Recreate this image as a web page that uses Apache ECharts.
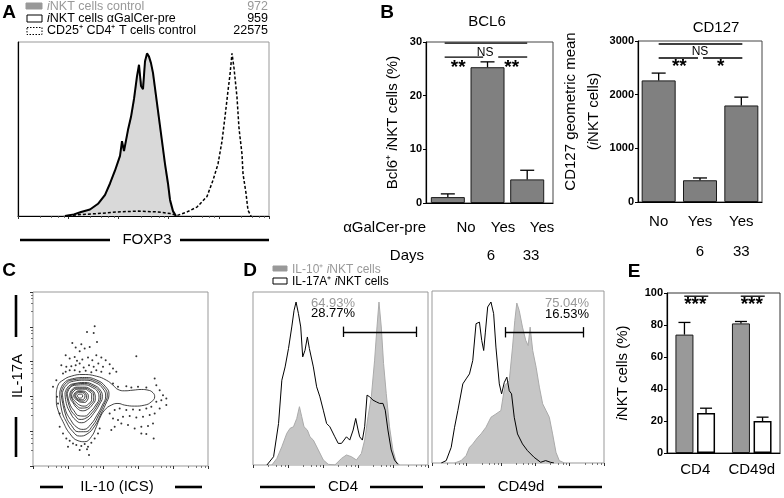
<!DOCTYPE html>
<html><head><meta charset="utf-8">
<script src="https://cdn.jsdelivr.net/npm/echarts@6/dist/echarts.min.js"></script>
<style>html,body{margin:0;padding:0;background:#fff}#c{width:784px;height:498px}</style>
</head><body><div id="c"></div>
<script>
// ================= DATA =================
// Panel A: FOXP3 histograms (x: fluorescence channel, y: % of max)
const foxp3Control = [[45,0],[55,1],[62,2],[72,4],[80,7],[87,12],[92,20],[97,27],[102,36],[104,44],[106,40],[110,52],[113,60],[116,70],[119,84],[121,91],[123,83],[125,80],[127,96],[129,99],[131,97],[133,93],[135,86],[138,72],[141,58],[144,45],[147,30],[150,18],[152,8],[155,2],[158,0]];
const foxp3Pre = [[47,0],[56,1],[63,2.5],[72,4],[80,7.5],[87,13],[92,20],[97,28],[102,37],[104,46],[106,40],[110,53],[113,61],[116,72],[119,86],[121,93],[123,80],[125,78],[127,95],[129,100],[131,98],[133,94],[135,88],[138,74],[141,60],[144,46],[147,32],[150,20],[152,10],[155,3],[158,0]];
const foxp3Treg = [[50,0],[60,0.8],[80,1.5],[100,2.5],[120,3],[140,2.5],[152,1.5],[159,0.3],[169,2.5],[179,5.5],[189,12],[195,22],[200,32],[204,46],[207,61],[210,77],[212,87],[214,100],[216,91],[219,73],[221,54],[224,38],[225,26],[228,14],[230,3.5],[233,0]];
const legendANames = ['iNKT cells control','iNKT cells \u03b1GalCer-pre','CD25\u207a CD4\u207a T cells control'];
const legendACounts = ['972','959','22575'];

// Panel B
const bcl6Groups = ['No','Yes','Yes'];
const bcl6Days = ['','6','33'];
const bcl6Mean = [1.1, 25.3, 4.4];
const bcl6Upper = [1.7, 26.3, 6.1];
const bcl6SigLines = [[-0.08,2.0,29.8],[-0.08,0.89,27.2],[1.27,2.0,27.2]];
const bcl6SigMarks = [[0.94,28.1],[0.26,25.6],[1.61,25.6]];
const bcl6SigText = ['NS','**','**'];
const cd127Cats = ['No','Yes\n6','Yes\n33'];
const cd127Mean = [2266, 405, 1799];
const cd127Upper = [2402, 448, 1954];
const cd127SigLines = [[0,2,2944],[0,1,2683],[1,2,2683]];
const cd127SigMarks = [[1,1,2795],[0,1,2560],[1,2,2560]];
const cd127SigText = ['NS','**','*'];

// Panel C: IL-10 vs IL-17A contour plot (arbitrary channel units)
const contourRings = [
 [[70,218],[75,243],[90,258],[115,270],[150,275],[190,270],[220,258],[240,243],[255,230],[275,226],[300,228],[325,230],[345,228],[360,220],[365,208],[355,193],[335,183],[305,180],[275,183],[255,188],[235,183],[215,168],[200,143],[190,118],[175,88],[155,73],[135,76],[110,98],[90,133],[75,168],[70,198],[70,218]],
 [[80,220],[92,248],[118,262],[155,266],[192,258],[218,238],[228,216],[218,186],[202,153],[185,120],[162,96],[140,90],[120,103],[100,133],[86,168],[80,220]],
 [[84,220],[96,246],[120,259],[155,262],[190,254],[214,235],[223,213],[213,185],[197,153],[180,123],[157,103],[136,103],[116,121],[98,153],[84,220]],
 [[88,220],[100,243],[122,255],[155,258],[188,250],[210,232],[218,210],[208,183],[192,153],[174,126],[152,110],[132,116],[112,140],[96,173],[88,220]],
 [[96,220],[107,240],[126,248],[155,251],[183,243],[202,228],[208,208],[198,183],[182,158],[164,138],[145,130],[128,138],[112,160],[100,188],[96,220]],
 [[100,219],[110,238],[128,246],[155,248],[180,240],[198,226],[203,207],[193,183],[177,160],[159,144],[141,140],[126,152],[111,174],[100,219]],
 [[103,218],[112,236],[130,243],[155,244],[178,236],[194,223],[198,205],[188,183],[172,163],[155,150],[138,151],[123,166],[110,188],[103,218]],
 [[110,216],[118,231],[133,237],[155,237],[173,230],[185,218],[187,202],[178,184],[163,170],[148,166],[133,173],[120,190],[112,203],[110,216]],
 [[113,215],[120,229],[134,234],[154,234],[170,228],[181,217],[182,201],[173,186],[159,175],[144,174],[130,183],[119,197],[113,215]],
 [[116,214],[123,226],[136,231],[153,231],[167,225],[176,215],[176,200],[167,187],[154,180],[140,183],[128,193],[119,203],[116,214]],
 [[122,213],[128,222],[139,226],[152,225],[162,219],[166,210],[163,198],[154,191],[142,192],[132,198],[124,205],[122,213]],
 [[125,212],[130,220],[140,224],[152,222],[159,216],[161,207],[158,200],[150,195],[140,196],[131,202],[125,212]],
 [[128,212],[133,219],[142,221],[151,219],[156,212],[154,203],[146,199],[137,201],[130,206],[128,212]],
 [[133,211],[138,216],[145,216],[149,211],[146,205],[139,204],[133,211]]
];
const contourDots = [[185,420],[162,403],[182,400],[118,370],[128,356],[145,366],[155,353],[140,345],[170,358],[192,373],[98,333],[110,323],[125,328],[132,316],[148,320],[165,326],[178,318],[190,333],[205,326],[218,318],[85,303],[100,298],[115,300],[128,303],[140,308],[152,296],[168,303],[182,298],[196,308],[210,298],[230,306],[98,283],[110,288],[125,288],[140,283],[158,286],[175,282],[190,288],[205,283],[240,293],[310,330],[250,283],[230,278],[90,278],[60,238],[70,258],
 [240,248],[255,238],[280,240],[295,236],[315,238],[340,236],[365,263],[370,243],[380,228],[390,213],[400,203],[385,198],[370,193],[355,178],[340,173],[320,168],[300,170],[280,168],[260,173],[245,168],[230,158],[240,143],[255,138],[270,148],[290,150],[310,146],[330,148],[350,153],[365,158],[380,173],[400,183],[360,128],[345,120],[325,118],[305,113],[285,123],[265,128],[245,118],[235,108],[325,98],[340,96],[362,83],
 [80,118],[90,98],[100,83],[110,76],[120,68],[130,63],[145,60],[155,66],[165,58],[175,70],[185,83],[195,98],[200,113],[105,58],[140,48],[162,50],[168,33],[80,158],[75,188],[72,208]];

// Panel D: CD4 / CD49d histograms (y: % of plot height)
const cd4IL10 = [[19,0],[24,3.8],[29,10.6],[34,18.3],[37.3,21.2],[40.7,22.1],[44,26.9],[46.7,33.7],[49,27.9],[51.3,22.1],[54.7,20.2],[57.3,16.3],[60.7,14.4],[65.7,8.7],[70.7,2.9],[75.7,0.4],[82.3,0],[89,3.8],[94,5.8],[99,4.8],[104,2.9],[109,6.7],[112.3,14.4],[115.7,27.9],[119,39.4],[122.3,60.6],[124.7,79.8],[126.7,94.2],[129,79.8],[131.3,58.7],[134,41.3],[137.3,22.1],[140.7,8.7],[144,1.9],[147.3,0]];
const cd4IL17 = [[14,0],[20.7,4.8],[25.7,24],[29,49],[32.3,56.7],[35.7,67.3],[39,79.8],[41.3,89.4],[43.3,94.2],[45.7,87.5],[48,79.8],[50,62.5],[52.3,66.3],[54.7,74],[56.7,67.3],[58.3,68.3],[60.7,56.7],[64,45.2],[67.3,39.4],[70.7,31.7],[74,24],[77.3,22.1],[82.3,16.3],[85.7,12.5],[89,12.5],[94,16.3],[97.3,14.4],[100.7,20.2],[103.3,26.9],[105.7,20.2],[107.3,16.3],[110,14.4],[112.3,22.1],[114.7,40.4],[117.3,39.4],[120.7,37.5],[124,36.5],[127.3,35.6],[130.7,35.6],[133,31.7],[135.7,20.2],[139,8.7],[142.3,2.9],[145.7,0.4]];
const cd49dIL10 = [[22.7,0],[29.3,1.4],[34.3,4.3],[37.7,9.1],[41,11.1],[46,14.9],[49.3,16.9],[54.3,20.8],[59.3,26.6],[64.3,28.5],[69.3,30.5],[73.3,45],[77.7,47.9],[81,67.4],[83.3,82.9],[85.3,93],[87.7,88.7],[91,79],[94.3,71.3],[96.7,68.3],[98.7,79],[101.3,65.4],[104.7,55.7],[108,44.1],[111.3,34.4],[114.7,30.5],[118,26.6],[121.3,16.9],[124.7,6.2],[128,1.4],[133.3,0]];
const cd49dIL17 = [[9.3,0],[14.3,1.4],[19.3,9.1],[22.7,20.8],[26,30.5],[31,46],[34.3,48.9],[37.7,51.8],[41,59.6],[44.3,81],[47.7,81.9],[50,71.3],[52,65.4],[53.7,76.1],[56,90.7],[59.3,93.6],[62,86.8],[64.3,67.4],[67.7,46],[70,40.2],[72.7,46.8],[75.3,49.9],[77.7,42],[80,40.2],[82.7,26.6],[86,16.9],[91,11.1],[96,7.2],[102.7,3.3],[109.3,0.4],[114.3,1.4],[119.3,0.4],[122.7,0]];
const cd4Gate = [91, 164];
const cd49dGate = [74, 152];
const cd4Pct = ['64.93%','28.77%'];
const cd49dPct = ['75.04%','16.53%'];

// Panel E
const eCats = ['CD4','CD49d'];
const eIL10 = [74, 81];
const eIL10Upper = [81.6, 82.2];
const eIL17 = [25, 20];
const eIL17Upper = [28, 22.4];
const eSigLines = [[0,0,98],[1,1,98]];
const eSigMarks = [[0,0,94],[1,1,94]];
const eSigText = ['***','***'];

// ================= CHART =================
const FONT = '"Liberation Sans", Arial, Helvetica, sans-serif';
const chart = echarts.init(document.getElementById('c'), null, {renderer:'canvas'});

function rich(fs, color){
  return {
    n:{fontSize:fs, fontFamily:FONT, fill:color, color:color},
    i:{fontSize:fs, fontFamily:FONT, fill:color, color:color, fontStyle:'italic'}
  };
}
function T(x, y, text, opt){
  return {type:'text', x:x, y:y, silent:true, style:Object.assign({text:text, fontFamily:FONT, fontSize:15, fill:'#000', align:'center', verticalAlign:'middle'}, opt||{})};
}
function L(x1,y1,x2,y2,w){
  return {type:'line', silent:true, shape:{x1:x1,y1:y1,x2:x2,y2:y2}, style:{stroke:'#000', lineWidth:w||2.6}};
}
function R(x,y,w,h,fill,stroke,dash){
  return {type:'rect', silent:true, shape:{x:x,y:y,width:w,height:h}, style:{fill:fill, stroke:stroke, lineWidth:1, lineDash:dash||null}};
}

function errBars(xi, yi, mean, upper, dx, capW){
  return {type:'custom', xAxisIndex:xi, yAxisIndex:yi, silent:true, z:5, encode:{x:0, y:[1,2]},
    data: mean.map(function(m,i){ return [i, m, upper[i]]; }),
    renderItem: function(p, api){
      const a = api.coord([api.value(0), api.value(1)]);
      const b = api.coord([api.value(0), api.value(2)]);
      const x = a[0] + dx;
      return {type:'group', children:[
        {type:'line', shape:{x1:x, y1:a[1], x2:x, y2:b[1]}, style:{stroke:'#000', lineWidth:1.3}},
        {type:'line', shape:{x1:x-capW/2, y1:b[1], x2:x+capW/2, y2:b[1]}, style:{stroke:'#000', lineWidth:1.3}}
      ]};
    }};
}
function sigLineSeries(xi, yi, lines, offs){
  return {type:'custom', xAxisIndex:xi, yAxisIndex:yi, silent:true, z:5, encode:{x:[0,1], y:2},
    data: lines,
    renderItem: function(p, api){
      const a = api.coord([api.value(0), api.value(2)]);
      const b = api.coord([api.value(1), api.value(2)]);
      const o = offs(api.value(0), api.value(1));
      return {type:'line', shape:{x1:a[0]+o[0], y1:a[1], x2:b[0]+o[1], y2:b[1]}, style:{stroke:'#000', lineWidth:1.3}};
    }};
}
function sigTextSeries(xi, yi, marks, texts, twoIdx){
  return {type:'custom', xAxisIndex:xi, yAxisIndex:yi, silent:true, z:5, encode: twoIdx ? {x:[0,1], y:2} : {x:0, y:1},
    data: marks,
    renderItem: function(p, api){
      let x, y;
      if (twoIdx){
        const a = api.coord([api.value(0), api.value(2)]);
        const b = api.coord([api.value(1), api.value(2)]);
        x = (a[0]+b[0])/2; y = a[1];
      } else {
        const a = api.coord([api.value(0), api.value(1)]);
        x = a[0]; y = a[1];
      }
      const t = texts[p.dataIndex];
      const star = t.indexOf('*') >= 0;
      return {type:'text', x:x, y: star ? y+2 : y, style:{text:t, fontFamily:FONT, fontSize: star ? 19 : 12, fontWeight: star ? 'bold' : 'normal', fill:'#000', align:'center', verticalAlign:'middle'}};
    }};
}
function histLine(xi, yi, data, color, width, dash, area, z){
  const s = {type:'line', xAxisIndex:xi, yAxisIndex:yi, data:data, symbol:'none', silent:true, z:z||2,
    lineStyle:{color:color, width:width, type: dash || 'solid'}};
  if (area) s.areaStyle = {color:area, opacity:1};
  return s;
}
function hiddenVal(gi, min, max, showLine, pos){
  return {type:'value', gridIndex:gi, min:min, max:max, position:pos,
    axisLine:{show:!!showLine, onZero:false, lineStyle:{color:'#000', width:1.2}},
    axisTick:{show:false}, axisLabel:{show:false}, splitLine:{show:false}};
}
function logTicks(gi, pos){
  return {type:'log', gridIndex:gi, min:1, max:100000, logBase:10, position:pos,
    axisLine:{show:false, onZero:false}, axisLabel:{show:false}, splitLine:{show:false},
    axisTick:{show:true, length:3, lineStyle:{color:'#333', width:1}},
    minorTick:{show:true, length:2, splitNumber:5, lineStyle:{color:'#555', width:0.8}},
    minorSplitLine:{show:false}};
}

const grids = [
  {left:18, top:42, width:251, height:174, show:true, borderColor:'#999', borderWidth:1}, // A
  {left:426, top:42, width:127, height:161, show:true, borderColor:'#444', borderWidth:1}, // B1
  {left:638, top:41, width:124, height:161, show:true, borderColor:'#444', borderWidth:1}, // B2
  {left:33, top:292, width:175, height:174, show:true, borderColor:'#999', borderWidth:1}, // C
  {left:253, top:292, width:175, height:173, show:true, borderColor:'#999', borderWidth:1}, // D1
  {left:432, top:291, width:172, height:172, show:true, borderColor:'#999', borderWidth:1}, // D2
  {left:667, top:293, width:113, height:160, show:true, borderColor:'#333', borderWidth:1}  // E
].map(function(g){ g.outerBoundsMode = 'none'; g.containLabel = false; return g; });

const tickLabel = {fontFamily:FONT, fontSize:11, fontWeight:'bold', color:'#000', margin:4, formatter:function(v){ return String(v); }};
const catLabel = {fontFamily:FONT, fontSize:15, color:'#000'};
const yLine = {show:true, onZero:false, lineStyle:{color:'#000', width:1.2}};

const xAxes = [
  hiddenVal(0, 0, 251, true, 'bottom'),                    // 0 A
  hiddenVal(1, -0.55, 2.65, true, 'bottom'),               // 1 B1
  {type:'category', gridIndex:2, data:cd127Cats, axisLine:yLine, axisTick:{show:false},
    axisLabel:Object.assign({}, catLabel, {lineHeight:30, margin:5, interval:0}), splitLine:{show:false}}, // 2 B2
  hiddenVal(3, 0, 525, false, 'bottom'),                   // 3 C
  hiddenVal(4, 0, 176, false, 'bottom'),                   // 4 D1
  hiddenVal(5, 0, 173, false, 'bottom'),                   // 5 D2
  {type:'category', gridIndex:6, data:eCats, axisLine:yLine, axisTick:{show:false},
    axisLabel:Object.assign({}, catLabel, {margin:9, interval:0}), splitLine:{show:false}}, // 6 E
  logTicks(0, 'bottom'), logTicks(3, 'bottom'), logTicks(4, 'bottom'), logTicks(5, 'bottom')
];

const yAxes = [
  hiddenVal(0, 0, 107, true, 'left'),  // 0 A
  {type:'value', gridIndex:1, min:0, max:30, interval:10, axisLine:yLine,
    axisTick:{show:true, length:3, lineStyle:{color:'#000'}}, axisLabel:tickLabel, splitLine:{show:false},
    name:'{n|Bcl6\u207a }{i|i}{n|NKT cells (%)}', nameLocation:'middle', nameGap:26, nameRotate:90,
    nameTextStyle:{rich:rich(15,'#000')}},
  {type:'value', gridIndex:2, min:0, max:3000, interval:1000, axisLine:yLine,
    axisTick:{show:true, length:3, lineStyle:{color:'#000'}}, axisLabel:tickLabel, splitLine:{show:false},
    name:'{n|CD127 geometric mean}\n{n|(}{i|i}{n|NKT cells)}', nameLocation:'middle', nameGap:29, nameRotate:90,
    nameTextStyle:{rich:(function(){ const r = rich(15,'#000'); r.n.lineHeight = 23; r.i.lineHeight = 23; return r; })(), lineHeight:23, padding:[0,0,0,20]}},
  hiddenVal(3, 0, 523, false, 'left'), // 3 C
  hiddenVal(4, 0, 100, false, 'left'), // 4 D1
  hiddenVal(5, 0, 100, false, 'left'), // 5 D2
  {type:'value', gridIndex:6, min:0, max:100, interval:20, axisLine:yLine,
    axisTick:{show:true, length:3, lineStyle:{color:'#000'}}, axisLabel:tickLabel, splitLine:{show:false},
    name:'{i|i}{n|NKT cells (%)}', nameLocation:'middle', nameGap:37, nameRotate:90,
    nameTextStyle:{rich:rich(15,'#000')}},
  logTicks(3, 'left')                  // 7 C ticks
];

const series = [];
// A
series.push(histLine(0,0,foxp3Control,'#aaa',1,null,'#d9d9d9',1));
series.push(histLine(0,0,foxp3Treg,'#000',1.5,[3,2],null,2));
series.push(histLine(0,0,foxp3Pre,'#000',2,null,null,3));
// B1
series.push({type:'bar', xAxisIndex:1, yAxisIndex:1, data:bcl6Mean.map(function(v,i){return [i,v];}), barWidth:34,
  itemStyle:{color:'#808080', borderColor:'#1a1a1a', borderWidth:1}, silent:true, z:2});
series.push(errBars(1,1,bcl6Mean,bcl6Upper,0,14));
series.push(sigLineSeries(1,1,bcl6SigLines,function(){return [0,0];}));
series.push(sigTextSeries(1,1,bcl6SigMarks,bcl6SigText,false));
// B2
series.push({type:'bar', xAxisIndex:2, yAxisIndex:2, data:cd127Mean, barWidth:34,
  itemStyle:{color:'#808080', borderColor:'#1a1a1a', borderWidth:1}, silent:true, z:2});
series.push(errBars(2,2,cd127Mean,cd127Upper,0,14));
series.push(sigLineSeries(2,2,cd127SigLines,function(a,b){ return [a===1?3:0, b===1?-2:1]; }));
series.push(sigTextSeries(2,2,cd127SigMarks,cd127SigText,true));
// C
series.push({type:'scatter', xAxisIndex:3, yAxisIndex:3, data:contourDots, symbolSize:2, itemStyle:{color:'#000'}, silent:true, z:2});
contourRings.forEach(function(r){
  series.push({type:'line', xAxisIndex:3, yAxisIndex:3, data:r, smooth:0.5, symbol:'none', silent:true, z:3,
    lineStyle:{color:'#111', width:0.8}});
});
// D
function gateMark(g, y){
  return {symbol:'none', silent:true, label:{show:false}, lineStyle:{color:'#000', width:1.3, type:'solid'},
    data:[
      [{coord:[g[0],y]},{coord:[g[1],y]}],
      [{coord:[g[0],y-3]},{coord:[g[0],y+3]}],
      [{coord:[g[1],y-3]},{coord:[g[1],y+3]}]
    ]};
}
series.push(histLine(4,4,cd4IL10,'#aaa',1,null,'#c6c6c6',1));
const d1b = histLine(4,4,cd4IL17,'#000',1,null,null,3); d1b.markLine = gateMark(cd4Gate,77); series.push(d1b);
series.push(histLine(5,5,cd49dIL10,'#aaa',1,null,'#c6c6c6',1));
const d2b = histLine(5,5,cd49dIL17,'#000',1,null,null,3); d2b.markLine = gateMark(cd49dGate,76); series.push(d2b);
// E
series.push({type:'bar', xAxisIndex:6, yAxisIndex:6, data:eIL10, barWidth:18, barGap:'20%',
  itemStyle:{color:'#999', borderColor:'#1a1a1a', borderWidth:1}, silent:true, z:2});
series.push({type:'bar', xAxisIndex:6, yAxisIndex:6, data:eIL17, barWidth:18, barGap:'20%',
  itemStyle:{color:'#fff', borderColor:'#000', borderWidth:1.5}, silent:true, z:2});
series.push(errBars(6,6,eIL10,eIL10Upper,-10.8,12));
series.push(errBars(6,6,eIL17,eIL17Upper,10.8,12));
series.push(sigLineSeries(6,6,eSigLines,function(){ return [-11,13]; }));
series.push(sigTextSeries(6,6,eSigMarks,eSigText,true));

// ---- graphic text / decorations ----
const g = [];
const letter = {fontSize:19, fontWeight:'bold'};
g.push(T(9,13,'A',letter), T(387,13,'B',letter), T(9,271,'C',letter), T(250,271,'D',letter), T(634,272,'E',letter));
// A legend
const legY = [6.5, 18.5, 31];
const legColor = ['#999','#000','#000'];
g.push(R(26,3,16,6,'#999','#999'));
g.push(R(27,15,15,7,'#fff','#000'));
g.push(R(27,27.5,15,7,'#fff','#000',[1.5,1.5]));
legendANames.forEach(function(n,i){
  const txt = n.indexOf('iNKT')===0 ? '{i|i}{n|' + n.slice(1) + '}' : '{n|' + n + '}';
  g.push({type:'text', x:47, y:legY[i], silent:true, style:{text:txt, rich:rich(12.5,legColor[i]), align:'left', verticalAlign:'middle'}});
  g.push(T(268, legY[i], legendACounts[i], {fontSize:12.5, align:'right', fill:legColor[i]}));
});
// axis captions with bars
g.push(T(147,240,'FOXP3'), L(20,240,110,240), L(180,240,269,240));
g.push(T(117,487,'IL-10 (ICS)'), L(40,487,63,487), L(175,487,202,487));
g.push({type:'text', x:18, y:376, rotation:Math.PI/2, silent:true, style:{text:'IL-17A', fontFamily:FONT, fontSize:15, fill:'#000', align:'center', verticalAlign:'middle'}});
g.push(L(16,295,16,337), L(16,417,16,457));
g.push(T(343,487,'CD4'), L(260,487,315,487), L(370,487,423,487));
g.push(T(521,487,'CD49d'), L(440,487,485,487), L(558,487,602,487));
// B titles & row labels
g.push(T(487,22,'BCL6'), T(716,28,'CD127'));
g.push(T(426,228,'\u03b1GalCer-pre',{align:'right'}), T(424,256,'Days',{align:'right'}));
const b1GroupX = [466,503,542], b1DayX = [0,491,531];
bcl6Groups.forEach(function(s,i){ g.push(T(b1GroupX[i],228,s)); if (bcl6Days[i]) g.push(T(b1DayX[i],256,bcl6Days[i])); });
// D legend
g.push(R(273,266,14,5,'#999','#999'));
g.push({type:'text', x:292, y:270, silent:true, style:{text:'{n|IL-10\u207a }{i|i}{n|NKT cells}', rich:rich(12,'#999'), align:'left', verticalAlign:'middle'}});
g.push(R(273,278,14,6,'#fff','#000'));
g.push({type:'text', x:292, y:281.5, silent:true, style:{text:'{n|IL-17A\u207a }{i|i}{n|NKT cells}', rich:rich(12,'#000'), align:'left', verticalAlign:'middle'}});
// D percentages
g.push(T(333,303,cd4Pct[0],{fontSize:13, fill:'#999'}), T(333,313.5,cd4Pct[1],{fontSize:13}));
g.push(T(567,303,cd49dPct[0],{fontSize:13, fill:'#999'}), T(567,314,cd49dPct[1],{fontSize:13}));

chart.setOption({
  animation:false,
  backgroundColor:'#fff',
  textStyle:{fontFamily:FONT},
  grid:grids, xAxis:xAxes, yAxis:yAxes, series:series, graphic:g
});
</script></body></html>
